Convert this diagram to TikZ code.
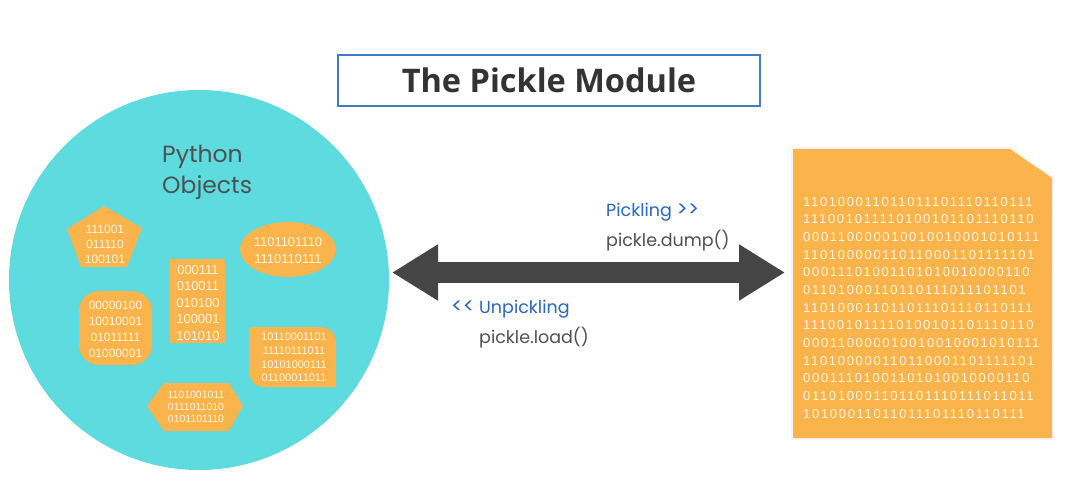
\documentclass[tikz,border=0pt]{standalone}
\usepackage{fontspec}
\setmainfont{Poppins}
\newfontfamily\titlefont{Open Sans}
\newfontfamily\binfont{Liberation Sans}
\newfontfamily\docfont[LetterSpace=13]{Liberation Sans}
\usetikzlibrary{arrows.meta}
\definecolor{cyanc}{HTML}{5DDBDF}
\definecolor{orangec}{HTML}{FAB44B}
\definecolor{bintxt}{HTML}{FFF4E2}
\definecolor{arrowc}{HTML}{454545}
\definecolor{titleblue}{HTML}{3F7CC4}
\definecolor{labelblue}{HTML}{2A66C2}
\definecolor{graytxt}{HTML}{505050}
\definecolor{darktxt}{HTML}{333333}
\newcommand\gtgt{{\fontsize{21}{22}\selectfont >\kern0pt>}}
\newcommand\ltlt{{\fontsize{21}{22}\selectfont <\kern0pt<}}
\tikzset{
  orangeshape/.style={fill=orangec, draw=none},
  bintext/.style={text=bintxt, align=center, inner sep=0pt},
  labeltext/.style={anchor=base west, inner sep=0pt, font=\fontsize{17.5}{22}\selectfont},
}
\begin{document}
\begin{tikzpicture}[x=1pt,y=-1pt]
\useasboundingbox (0,0) rectangle (1069,480);
\fill[white] (0,0) rectangle (1069,480);

% title
\node[draw=titleblue, line width=1.2pt, minimum width=422pt, minimum height=51pt, inner sep=0pt,
      font=\titlefont\bfseries\fontsize{32.5}{36}\selectfont, text=darktxt] (title) at (549,80.5) {The Pickle Module};

% circle of python objects
\node[circle, fill=cyanc, minimum size=380pt, inner sep=0pt] (objs) at (199,280) {};
\node[anchor=base west, inner sep=0pt, text=graytxt,
      font=\fontsize{23.5}{31}\selectfont] (pyobj) at (162,162) {Python};
\node[anchor=base west, inner sep=0pt, text=graytxt,
      font=\fontsize{23.5}{31}\selectfont] (pyobj2) at (162,193) {Objects};

% pentagon
\fill[orangeshape] (104,206) -- (142,228) -- (127,267) -- (81,267) -- (67,229) -- cycle;
\node[bintext, font=\binfont\fontsize{12}{15}\selectfont] (pent) at (105,244) {111001\\011110\\100101};

% tall rectangle
\fill[orangeshape] (170,259) rectangle (225,343);
\node[bintext, font=\binfont\fontsize{13}{16.5}\selectfont] (rect) at (198,303) {000111\\010011\\010100\\100001\\101010};

% rounded square
\fill[orangeshape, rounded corners=20pt] (79,291) rectangle (152,365);
\node[bintext, font=\binfont\fontsize{12}{16}\selectfont] (rsq) at (115.5,329) {00000100\\10010001\\01011111\\01000001};

% ellipse
\fill[orangeshape] (288,249.5) ellipse [x radius=48pt, y radius=27.5pt];
\node[bintext, font=\binfont\fontsize{13}{17}\selectfont] (ell) at (288,251) {1101101110\\1110110111};

% right rounded box
\fill[orangeshape] (251,327) -- (321,327) arc[start angle=90, end angle=0, radius=15pt] -- (336,387)
   -- (264,387) arc[start angle=270, end angle=180, radius=15pt] -- (249,329) -- cycle;
\node[bintext, font=\binfont\fontsize{11}{13.7}\selectfont] (rbox) at (294,357.5) {10110001101\\11110111011\\10101000111\\01100011011};

% hexagon
\fill[orangeshape] (147,406) -- (164,383) -- (229,383) -- (243,406) -- (229,431) -- (164,431) -- cycle;
\node[bintext, font=\binfont\fontsize{10.5}{12}\selectfont] (hex) at (196,406.5) {1101001011\\0111011010\\0101101110};

% document
\fill[black, opacity=0.04] (791,147) -- (1011,147) -- (1054,177) -- (1054,440) -- (791,440) -- cycle;
\fill[orangec] (793,149) -- (1010,149) -- (1052,178) -- (1052,438) -- (793,438) -- cycle;
\coordinate (doc) at (922,294);
\foreach \t [count=\i from 0] in {110100011011011101110110111,111001011110100101101110110,000110000010010010001010111,110100000110110001101111101,00011101001101010010000110,01101000110110111011101101,110100011011011101110110111,111001011110100101101110110,000110000010010010001010111,110100000110110001101111101,00011101001101010010000110,011010001101101110111011011,10100011011011101110110111}
  \node[anchor=base west, inner sep=0pt, text=bintxt, font=\docfont\fontsize{13}{16}\selectfont] at (803,{206+17.67*\i}) {\t};

% double arrow
\coordinate (L) at (392,272.5);
\coordinate (R) at (785,272.5);
\draw[arrowc, line width=21pt, {Triangle[length=46pt, width=53pt]}-{Triangle[length=46pt, width=53pt]}] (L) -- (R);

% labels
\node[labeltext, text=labelblue] (pick) at (606,216) {Pickling \gtgt};
\node[labeltext, text=graytxt] (dump) at (606,246) {pickle.dump()};
\node[labeltext, text=labelblue] (unpick) at (451,313) {\ltlt{} Unpickling};
\node[labeltext, text=graytxt] (load) at (479,343) {pickle.load()};
\end{tikzpicture}
\end{document}
